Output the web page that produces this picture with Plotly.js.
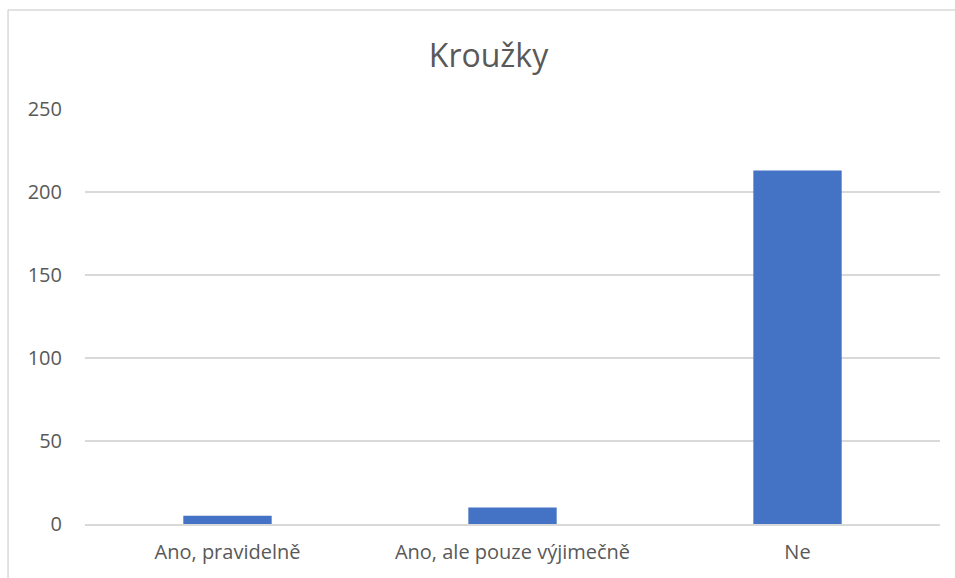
<!DOCTYPE html>
<html>
<head>
<meta charset="utf-8">
<script src="https://cdn.plot.ly/plotly-3.0.1.min.js"></script>
<style>html,body{margin:0;padding:0;background:#fff;}#chart{width:955px;height:578px;}</style>
</head>
<body>
<div id="chart"></div>
<script>
const categories = ["Ano, pravidelně", "Ano, ale pouze výjimečně", "Ne"];
const values = [5, 10, 213];
const yTicks = [0, 50, 100, 150, 200, 250];
const chartTitle = "Kroužky";

const font = "Open Sans, Liberation Sans, sans-serif";
const trace = {
  type: "bar",
  x: categories,
  y: values,
  marker: {color: "#4472C4"},
  hoverinfo: "x+y"
};
const layout = {
  width: 955, height: 578,
  margin: {l: 85, r: 15, t: 109, b: 54},
  paper_bgcolor: "#ffffff", plot_bgcolor: "#ffffff",
  bargap: 0.69,
  showlegend: false,
  title: {text: chartTitle, font: {family: font, size: 32, color: "#595959"}, x: 0.5115, xanchor: "center", xref: "container", y: 0.903, yanchor: "middle", yref: "container"},
  xaxis: {
    showgrid: false, showline: true, linecolor: "#d9d9d9", linewidth: 1.5,
    ticks: "", tickfont: {family: font, size: 20, color: "#595959"}, zeroline: false,
    ticklabelstandoff: 9, fixedrange: true
  },
  yaxis: {
    range: [0, 250], tickvals: yTicks, ticktext: yTicks.map(String),
    showgrid: true, gridcolor: "#d9d9d9", gridwidth: 1.5, zeroline: false,
    showline: false, ticks: "", ticklen: 0, ticklabelstandoff: 22,
    tickfont: {family: font, size: 20, color: "#595959"}, fixedrange: true
  },
  shapes: [
    {type: "line", xref: "paper", yref: "paper", x0: -0.09, x1: -0.09, y0: -0.2, y1: 1.2386, line: {color: "#d9d9d9", width: 1.5}},
    {type: "line", xref: "paper", yref: "paper", x0: -0.09, x1: 1.03, y0: 1.2386, y1: 1.2386, line: {color: "#d9d9d9", width: 1.5}}
  ]
};
Plotly.newPlot("chart", [trace], layout, {displayModeBar: false, staticPlot: true});
</script>
</body>
</html>
